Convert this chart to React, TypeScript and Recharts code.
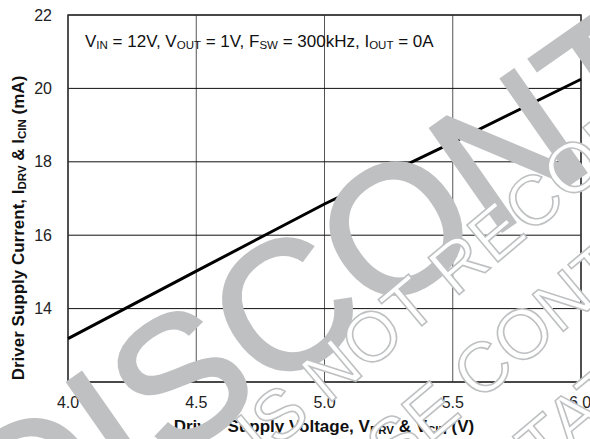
import { LineChart, Line, XAxis, YAxis, CartesianGrid, ReferenceArea } from "recharts";

// driver supply voltage (V) vs driver supply current (mA)
const voltages = [4.0, 4.5, 5.0, 5.5, 6.0];
const currents = [13.18, 15.02, 16.85, 18.53, 20.25];
const xTicks = [4.0, 4.5, 5.0, 5.5, 6.0];
const yTicks = [12, 14, 16, 18, 20, 22];

const data = voltages.map((v, i) => ({ v, i: currents[i] }));

const FONT = "'Liberation Sans', Arial, Helvetica, sans-serif";
const MARK = "#bfc0c2";

const sub = (s: string, size: number) => (
  <>
    <tspan fontSize={size} dy={2}>{s}</tspan>
    <tspan dy={-2}>{" "}</tspan>
  </>
);

const Watermark = () => (
  <svg
    width={590}
    height={439}
    style={{ position: "absolute", left: 0, top: 0, pointerEvents: "none" }}
  >
    <g fontFamily={FONT}>
      <text x={18} y={570} fontSize={182} fill={MARK} stroke={MARK} strokeWidth={3} transform="rotate(-35 18 570)">
        DISCONTINUED
      </text>
      <g fontSize={70} fill="#fff" stroke={MARK} strokeWidth={1.6}>
        <text x={262} y={460} transform="rotate(-40 262 460)">IS NOT RECOMMENDED</text>
        <text x={255} y={590} transform="rotate(-40 255 590)">PLEASE CONTACT</text>
        <text x={438} y={562} transform="rotate(-40 438 562)">LIMITATIONS</text>
      </g>
    </g>
  </svg>
);

export default function App() {
  return (
    <div style={{ position: "relative", width: 590, height: 439, background: "#fff" }}>
      <style>{`body{margin:0}`}</style>
      <LineChart
        width={590}
        height={439}
        data={data}
        margin={{ top: 15, right: 9, bottom: 27, left: 0 }}
        style={{ fontFamily: FONT }}
      >
        <CartesianGrid horizontal={false} stroke="#555" strokeWidth={1} />
        <CartesianGrid vertical={false} stroke="#111" strokeWidth={1} />
        <XAxis
          dataKey="v"
          type="number"
          domain={[4, 6]}
          ticks={xTicks}
          tickFormatter={(t: number) => t.toFixed(1)}
          axisLine={false}
          tickLine={false}
          tickSize={0}
          tickMargin={15}
          height={30}
          tick={{ fill: "#222", fontSize: 16 }}
        />
        <YAxis
          type="number"
          domain={[12, 22]}
          ticks={yTicks}
          tickFormatter={(t: number) => (t === 12 ? "" : String(t))}
          axisLine={false}
          tickLine={false}
          tickSize={0}
          tickMargin={16}
          width={68}
          tick={{ fill: "#222", fontSize: 16 }}
        />
        <ReferenceArea x1={4} x2={6} y1={12} y2={22} fill="none" stroke="#333" strokeWidth={1.5} />
        <Line
          dataKey="i"
          type="linear"
          stroke="#000"
          strokeWidth={3}
          dot={false}
          isAnimationActive={false}
        />
        <text x={85} y={47} fontSize={17} fill="#111">
          V{sub("IN", 11.5)}= 12V, V{sub("OUT", 11.5)}= 1V, F{sub("SW", 11.5)}= 300kHz, I{sub("OUT", 11.5)}= 0A
        </text>
        <text x={324} y={432} fontSize={17} fontWeight="bold" fill="#111" textAnchor="middle">
          Driver Supply Voltage, V{sub("DRV", 11.5)}&amp; V{sub("CIN", 11.5)}(V)
        </text>
        <text
          x={24}
          y={228}
          fontSize={17}
          fontWeight="bold"
          fill="#111"
          textAnchor="middle"
          transform="rotate(-90 24 228)"
        >
          Driver Supply Current, I{sub("DRV", 11.5)}&amp; I{sub("CIN", 11.5)}(mA)
        </text>
      </LineChart>
      <Watermark />
    </div>
  );
}
